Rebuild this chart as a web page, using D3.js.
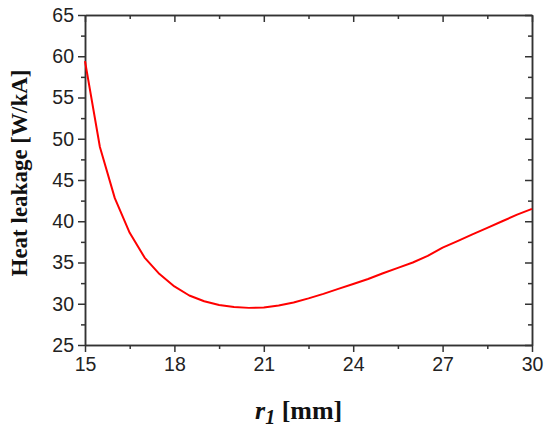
<!DOCTYPE html>
<html>
<head>
<meta charset="utf-8">
<script src="https://cdn.jsdelivr.net/npm/d3@7"></script>
<style>
  html, body { margin: 0; padding: 0; background: #fff; }
  svg { display: block; }
</style>
</head>
<body>
<div id="chart"></div>
<script>
// r1 [mm] and heat leakage [W/kA]
const r1Values = [15.0, 15.5, 16.0, 16.5, 17.0, 17.5, 18.0, 18.5, 19.0, 19.5, 20.0,
                  20.5, 21.0, 21.5, 22.0, 22.5, 23.0, 23.5, 24.0, 24.5, 25.0,
                  25.5, 26.0, 26.5, 27.0, 27.5, 28.0, 28.5, 29.0, 29.5, 30.0];
const heatLeakage = [59.4, 49.0, 42.8, 38.6, 35.6, 33.6, 32.1, 31.0, 30.3, 29.85, 29.6,
                     29.5, 29.55, 29.8, 30.15, 30.65, 31.2, 31.8, 32.4, 33.0, 33.7,
                     34.35, 35.0, 35.8, 36.8, 37.6, 38.4, 39.2, 40.0, 40.8, 41.5];

const xTicks = [15, 18, 21, 24, 27, 30];
const xMinorTicks = [16.5, 19.5, 22.5, 25.5, 28.5];
const yTicks = [25, 30, 35, 40, 45, 50, 55, 60, 65];
const yMinorTicks = [27.5, 32.5, 37.5, 42.5, 47.5, 52.5, 57.5, 62.5];

const width = 550, height = 434;
const margin = { top: 15, right: 18, bottom: 89, left: 85 };
const innerW = width - margin.left - margin.right;
const innerH = height - margin.top - margin.bottom;

const svg = d3.select('#chart').append('svg')
  .attr('width', width)
  .attr('height', height);

const g = svg.append('g')
  .attr('transform', `translate(${margin.left},${margin.top})`);

const x = d3.scaleLinear().domain([15, 30]).range([0, innerW]);
const y = d3.scaleLinear().domain([25, 65]).range([innerH, 0]);

const axisColor = '#333';
const labelFont = '"Liberation Sans", Arial, sans-serif';
const titleFont = '"Liberation Serif", "Times New Roman", serif';

function styleAxis(sel) {
  sel.select('.domain').attr('stroke', axisColor).attr('stroke-width', 1.5);
  sel.selectAll('.tick line').attr('stroke', axisColor).attr('stroke-width', 1.5);
  sel.selectAll('.tick text')
    .attr('fill', '#222')
    .attr('font-family', labelFont)
    .attr('font-size', '19.5px');
}

// Major axes, bottom / left with labels, ticks outward
g.append('g')
  .attr('transform', `translate(0,${innerH})`)
  .call(d3.axisBottom(x).tickValues(xTicks).tickSizeInner(7).tickSizeOuter(0).tickPadding(5))
  .call(styleAxis);

g.append('g')
  .call(d3.axisLeft(y).tickValues(yTicks).tickSizeInner(7).tickSizeOuter(0).tickPadding(4))
  .call(styleAxis);

// Minor ticks
g.append('g')
  .attr('transform', `translate(0,${innerH})`)
  .call(d3.axisBottom(x).tickValues(xMinorTicks).tickSizeInner(4).tickSizeOuter(0).tickFormat(''))
  .call(styleAxis);

g.append('g')
  .call(d3.axisLeft(y).tickValues(yMinorTicks).tickSizeInner(4).tickSizeOuter(0).tickFormat(''))
  .call(styleAxis);

// Mirror axes, top / right, ticks pointing inward
g.append('g')
  .call(d3.axisTop(x).tickValues(xTicks).tickSizeInner(-7).tickSizeOuter(0).tickFormat(''))
  .call(styleAxis);
g.append('g')
  .call(d3.axisTop(x).tickValues(xMinorTicks).tickSizeInner(-4).tickSizeOuter(0).tickFormat(''))
  .call(styleAxis);

g.append('g')
  .attr('transform', `translate(${innerW},0)`)
  .call(d3.axisRight(y).tickValues(yTicks).tickSizeInner(-7).tickSizeOuter(0).tickFormat(''))
  .call(styleAxis);
g.append('g')
  .attr('transform', `translate(${innerW},0)`)
  .call(d3.axisRight(y).tickValues(yMinorTicks).tickSizeInner(-4).tickSizeOuter(0).tickFormat(''))
  .call(styleAxis);

// Curve
const data = r1Values.map((r, i) => ({ r, q: heatLeakage[i] }));

g.append('path')
  .datum(data)
  .attr('fill', 'none')
  .attr('stroke', '#ff0000')
  .attr('stroke-width', 2)
  .attr('stroke-linejoin', 'round')
  .attr('d', d3.line().x(d => x(d.r)).y(d => y(d.q)));

// Axis titles
svg.append('text')
  .attr('transform', `translate(27,173) rotate(-90)`)
  .attr('text-anchor', 'middle')
  .attr('font-family', titleFont)
  .attr('font-weight', 'bold')
  .attr('font-size', '23px')
  .attr('fill', '#111')
  .text('Heat leakage [W/kA]');

const xTitle = svg.append('text')
  .attr('x', 255)
  .attr('y', 419)
  .attr('font-family', titleFont)
  .attr('font-weight', 'bold')
  .attr('font-size', '26px')
  .attr('fill', '#111');

xTitle.append('tspan')
  .attr('font-style', 'italic')
  .text('r');
xTitle.append('tspan')
  .attr('font-style', 'italic')
  .attr('font-size', '20px')
  .attr('dy', 5)
  .text('1');
xTitle.append('tspan')
  .attr('dy', -5)
  .text(' [mm]');
</script>
</body>
</html>
